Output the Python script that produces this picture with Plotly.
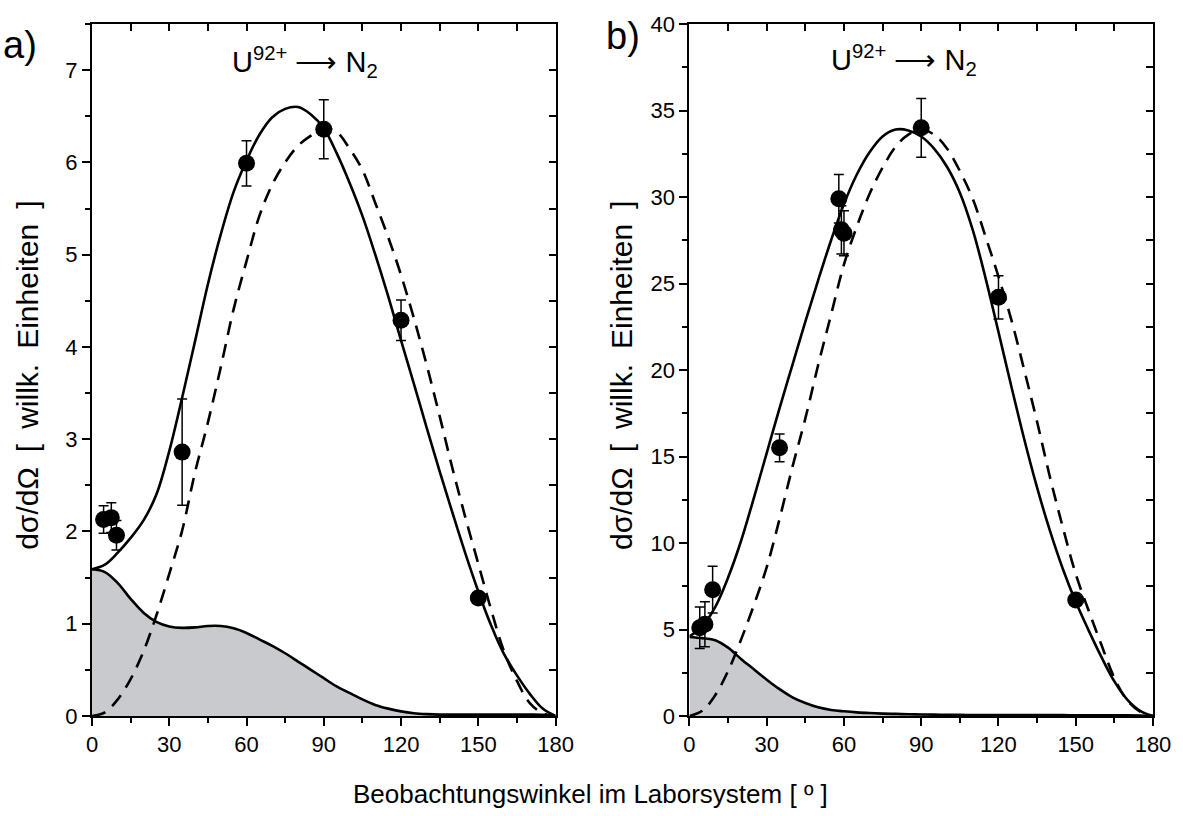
import plotly.graph_objects as go

# ---------------- data ----------------
ANGLES = [0, 5, 10, 15, 20, 25, 30, 35, 40, 45, 50, 55, 60, 65, 70, 75, 80, 85, 90,
          95, 100, 105, 110, 115, 120, 125, 130, 135, 140, 145, 150, 155, 160, 165, 170, 175, 180]

# panel a)
A_SOLID = [1.59, 1.64, 1.77, 1.93, 2.12, 2.40, 2.87, 3.45, 4.06, 4.68, 5.22, 5.68, 6.02, 6.30, 6.49,
           6.58, 6.60, 6.52, 6.37, 6.10, 5.78, 5.42, 5.00, 4.55, 4.07, 3.60, 3.12, 2.65, 2.20, 1.76,
           1.35, 0.98, 0.67, 0.44, 0.24, 0.08, 0.0]
A_DASHED = [0.0, 0.04, 0.18, 0.40, 0.70, 1.09, 1.54, 2.01, 2.64, 3.18, 3.78, 4.41, 4.93, 5.42, 5.76,
            6.00, 6.18, 6.29, 6.37, 6.33, 6.15, 5.92, 5.56, 5.19, 4.78, 4.31, 3.80, 3.25, 2.68, 2.15,
            1.65, 1.15, 0.70, 0.38, 0.14, 0.03, 0.0]
A_SHADED = [1.59, 1.56, 1.44, 1.27, 1.12, 1.02, 0.97, 0.955, 0.96, 0.975, 0.975, 0.95, 0.90, 0.83,
            0.76, 0.68, 0.59, 0.50, 0.41, 0.32, 0.25, 0.18, 0.12, 0.08, 0.05, 0.03, 0.02, 0.015,
            0.015, 0.015, 0.015, 0.015, 0.015, 0.015, 0.015, 0.012, 0.0]
A_PX = [4.5, 7.5, 9.5, 35, 60, 90, 120, 150]
A_PY = [2.13, 2.15, 1.96, 2.86, 5.99, 6.36, 4.29, 1.28]
A_ERR = [0.15, 0.16, 0.16, 0.575, 0.245, 0.32, 0.22, 0.05]

# panel b)
B_SOLID = [4.6, 5.2, 6.3, 8.0, 10.1, 12.6, 15.2, 17.8, 20.3, 22.8, 25.2, 27.5, 29.6, 31.3, 32.6,
           33.5, 33.9, 33.85, 33.5, 32.8, 31.75, 30.25, 28.1, 25.3, 22.2, 19.05, 16.0, 13.2, 10.7,
           8.5, 6.6, 4.95, 3.4, 2.0, 0.95, 0.3, 0.0]
B_DASHED = [0.0, 0.3, 1.2, 2.6, 4.4, 6.4, 8.6, 11.4, 14.4, 17.2, 20.3, 23.2, 26.1, 28.3, 30.2,
            31.7, 32.9, 33.6, 33.9, 33.6, 32.8, 31.5, 29.9, 27.7, 25.4, 22.9, 20.0, 17.0, 13.8,
            10.9, 8.2, 6.1, 4.1, 2.2, 0.9, 0.25, 0.0]
B_SHADED = [4.57, 4.5, 4.38, 3.95, 3.3, 2.7, 2.1, 1.55, 1.08, 0.75, 0.5, 0.35, 0.27, 0.21, 0.17,
            0.14, 0.12, 0.10, 0.09, 0.08, 0.07, 0.065, 0.06, 0.06, 0.055, 0.05, 0.05, 0.05, 0.05,
            0.05, 0.045, 0.045, 0.04, 0.04, 0.04, 0.03, 0.0]
B_PX = [4, 6, 9, 35, 58, 59, 60, 90, 120, 150]
B_PY = [5.1, 5.3, 7.3, 15.5, 29.9, 28.1, 27.9, 34.0, 24.2, 6.7]
B_ERR = [1.2, 1.3, 1.35, 0.8, 1.4, 1.4, 1.3, 1.7, 1.25, 0.1]

X_TICKS = [0, 30, 60, 90, 120, 150, 180]
A_YTICKS = [0, 1, 2, 3, 4, 5, 6, 7]
B_YTICKS = [0, 5, 10, 15, 20, 25, 30, 35, 40]

TITLE_TXT = "U<sup>92+</sup> ⟶ N<sub>2</sub>"
YTITLE = "dσ/dΩ\u2002[\u2002willk.\u2002Einheiten\u2002]"
XTITLE = "Beobachtungswinkel im Laborsystem [ º ]"

# ---------------- figure ----------------
FONT = "Liberation Sans, Arial, Helvetica, sans-serif"
LW = 2.6
fig = go.Figure()


def add_panel(xa, ya, solid, dashed, shaded, px, py, err):
    fig.add_trace(go.Scatter(x=ANGLES, y=shaded, mode="lines", fill="tozeroy",
                             fillcolor="#c8cacd", line=dict(color="black", width=LW, shape="spline"),
                             xaxis=xa, yaxis=ya, showlegend=False, hoverinfo="skip"))
    fig.add_trace(go.Scatter(x=ANGLES, y=dashed, mode="lines",
                             line=dict(color="black", width=LW, dash="14px,9px", shape="spline"),
                             xaxis=xa, yaxis=ya, showlegend=False))
    fig.add_trace(go.Scatter(x=ANGLES, y=solid, mode="lines",
                             line=dict(color="black", width=LW, shape="spline"),
                             xaxis=xa, yaxis=ya, showlegend=False))
    fig.add_trace(go.Scatter(x=px, y=py, mode="markers",
                             marker=dict(color="black", size=17),
                             error_y=dict(type="data", array=err, color="black", thickness=1.5, width=5),
                             xaxis=xa, yaxis=ya, showlegend=False, cliponaxis=False))


add_panel("x", "y", A_SOLID, A_DASHED, A_SHADED, A_PX, A_PY, A_ERR)
add_panel("x2", "y2", B_SOLID, B_DASHED, B_SHADED, B_PX, B_PY, B_ERR)

# dummy traces for mirror axes
for xa, ya in [("x3", "y"), ("x", "y3"), ("x4", "y2"), ("x2", "y4")]:
    fig.add_trace(go.Scatter(x=[None], y=[None], xaxis=xa, yaxis=ya, showlegend=False,
                             hoverinfo="skip"))

tickfont = dict(family=FONT, size=22, color="black")
common_x = dict(range=[0, 180], showgrid=False, zeroline=False, showline=True, linecolor="black",
                linewidth=2, ticks="outside", ticklen=8, tickwidth=1.5, tickcolor="black",
                tickvals=X_TICKS, tickfont=tickfont,
                minor=dict(ticks="outside", ticklen=5, tickwidth=1.5, tickcolor="black", dtick=15))
common_y = dict(showgrid=False, zeroline=False, showline=True, linecolor="black", linewidth=2,
                ticks="outside", ticklen=8, tickwidth=1.5, tickcolor="black", tickfont=tickfont)

DOM_A = [0, 0.4369]
DOM_B = [0.5631, 1]

mirror_common = dict(ticks="inside", ticklen=7, tickwidth=1.5, tickcolor="black",
                     showticklabels=False, showline=True, linecolor="black", linewidth=2,
                     showgrid=False, zeroline=False)

fig.update_layout(
    width=1183, height=816,
    margin=dict(l=92, r=29, t=16, b=100),
    paper_bgcolor="white", plot_bgcolor="white",
    font=dict(family=FONT, color="black"),
    showlegend=False,
    xaxis=dict(domain=DOM_A, anchor="y", **common_x),
    xaxis2=dict(domain=DOM_B, anchor="y2", **common_x),
    yaxis=dict(domain=[0, 1], anchor="x", range=[0, 7.5], tickvals=A_YTICKS,
               minor=dict(ticks="outside", ticklen=5, tickwidth=1.5, tickcolor="black", dtick=0.5),
               **common_y),
    yaxis2=dict(domain=[0, 1], anchor="x2", range=[0, 40], tickvals=B_YTICKS,
                minor=dict(ticks="outside", ticklen=5, tickwidth=1.5, tickcolor="black", dtick=2.5),
                **common_y),
    xaxis3=dict(overlaying="x", anchor="y", side="top", range=[0, 180], dtick=15, **mirror_common),
    xaxis4=dict(overlaying="x2", anchor="y2", side="top", range=[0, 180], dtick=15, **mirror_common),
    yaxis3=dict(overlaying="y", anchor="x", side="right", range=[0, 7.5], dtick=0.5, **mirror_common),
    yaxis4=dict(overlaying="y2", anchor="x2", side="right", range=[0, 40], dtick=2.5, **mirror_common),
)

ann_font = dict(family=FONT, size=29, color="black")
annotations = [
    dict(text=TITLE_TXT, xref="x domain", yref="y domain", x=0.46, y=0.945,
         showarrow=False, font=ann_font, xanchor="center", yanchor="middle"),
    dict(text=TITLE_TXT, xref="x2 domain", yref="y2 domain", x=0.462, y=0.948,
         showarrow=False, font=ann_font, xanchor="center", yanchor="middle"),
    dict(text="a)", xref="paper", yref="paper", x=-0.086, y=0.97, showarrow=False,
         font=dict(family=FONT, size=38, color="black"), xanchor="left", yanchor="middle"),
    dict(text="b)", xref="paper", yref="paper", x=0.483, y=0.982, showarrow=False,
         font=dict(family=FONT, size=38, color="black"), xanchor="left", yanchor="middle"),
    dict(text=YTITLE, xref="paper", yref="paper", x=-0.061, y=0.492, textangle=-90, showarrow=False,
         font=dict(family=FONT, size=30, color="black"), xanchor="center", yanchor="middle"),
    dict(text=YTITLE, xref="paper", yref="paper", x=0.499, y=0.492, textangle=-90, showarrow=False,
         font=dict(family=FONT, size=30, color="black"), xanchor="center", yanchor="middle"),
    dict(text=XTITLE, xref="paper", yref="paper", x=0.47, y=-0.113, showarrow=False,
         font=dict(family=FONT, size=26, color="black"), xanchor="center", yanchor="middle"),
]
fig.update_layout(annotations=annotations)

fig.write_html("out.html")
